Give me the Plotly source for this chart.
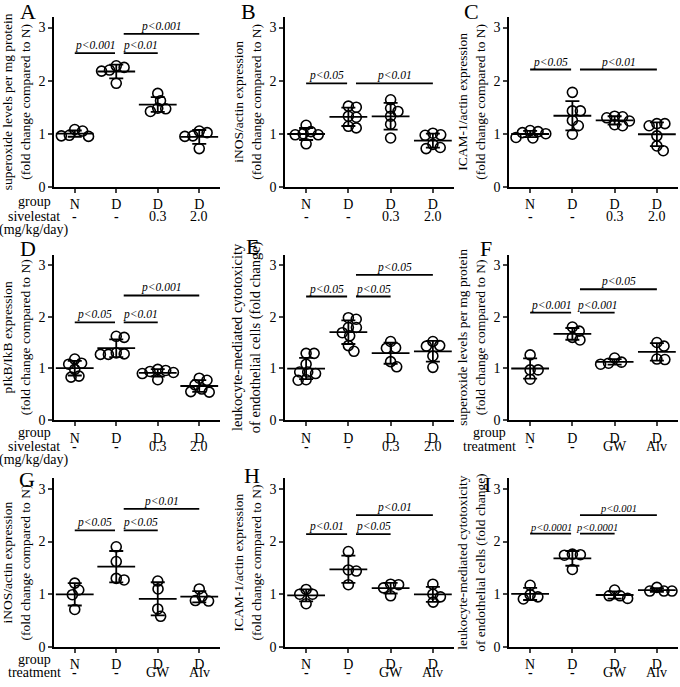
import numpy as np
import plotly.graph_objects as go

# ---------------- data ----------------
GROUPS = ["N", "D", "D", "D"]
DOSE = ["-", "-", "0.3", "2.0"]
TREAT = ["-", "-", "GW", "Alv"]

A_values = [[1.08, 1.05, 0.97, 0.96, 0.95],
            [2.28, 2.18, 2.20, 2.25, 1.95],
            [1.76, 1.62, 1.48, 1.42, 1.47],
            [1.02, 1.05, 0.96, 0.95, 0.72]]
B_values = [[1.04, 0.98, 1.00, 1.16, 0.81, 0.98],
            [1.50, 1.31, 1.11, 1.52, 1.33, 1.14],
            [1.48, 1.64, 1.42, 1.18, 1.33, 0.92],
            [0.97, 1.01, 0.98, 0.80, 0.72, 0.74]]
C_values = [[0.93, 1.04, 1.02, 1.06, 0.92, 1.00],
            [1.78, 1.43, 1.43, 1.15, 1.25, 0.99],
            [1.33, 1.30, 1.32, 1.17, 1.15, 1.24],
            [1.19, 1.15, 1.19, 0.96, 0.68, 0.77]]
D_values = [[1.10, 1.18, 1.08, 0.83, 0.98, 0.85],
            [1.60, 1.62, 1.27, 1.28, 1.30, 1.27],
            [0.94, 0.98, 0.96, 0.92, 0.78, 0.90],
            [0.81, 0.77, 0.68, 0.54, 0.60, 0.55]]
E_values = [[1.29, 1.29, 1.08, 0.93, 0.90, 0.93, 0.77, 0.78],
            [1.98, 1.95, 1.79, 1.79, 1.69, 1.63, 1.44, 1.33],
            [1.52, 1.40, 1.39, 1.03, 1.13],
            [1.52, 1.43, 1.44, 1.24, 1.02]]
F_values = [[1.26, 0.97, 0.97, 0.79],
            [1.72, 1.80, 1.55, 1.60],
            [1.20, 1.08, 1.12, 1.10],
            [1.43, 1.50, 1.17, 1.18]]
G_values = [[1.08, 1.21, 0.99, 0.71],
            [1.90, 1.62, 1.30, 1.27],
            [1.25, 1.10, 0.72, 0.58],
            [0.87, 0.96, 1.10, 0.88]]
H_values = [[1.09, 1.00, 1.00, 0.82],
            [1.81, 1.46, 1.44, 1.18],
            [1.19, 1.18, 1.12, 0.97],
            [1.00, 1.19, 0.95, 0.85]]
I_values = [[0.91, 1.17, 0.99, 0.95],
            [1.75, 1.76, 1.74, 1.47],
            [1.08, 0.92, 0.97, 0.97],
            [1.06, 1.13, 1.06, 1.06]]

# significance comparisons: (group i, group j, bar height, label)
A_sig = [(1, 2, 2.52, "p<0.001"), (2, 3, 2.52, "p<0.01"), (2, 4, 2.88, "p<0.001")]
B_sig = [(1, 2, 1.95, "p<0.05"), (2, 4, 1.95, "p<0.01")]
C_sig = [(1, 2, 2.21, "p<0.05"), (2, 4, 2.21, "p<0.01")]
D_sig = [(1, 2, 1.89, "p<0.05"), (2, 3, 1.89, "p<0.01"), (2, 4, 2.41, "p<0.001")]
E_sig = [(1, 2, 2.39, "p<0.05"), (2, 3, 2.39, "p<0.05"), (2, 4, 2.81, "p<0.05")]
F_sig = [(1, 2, 2.08, "p<0.001"), (2, 3, 2.08, "p<0.001"), (2, 4, 2.53, "p<0.05")]
G_sig = [(1, 2, 2.21, "p<0.05"), (2, 3, 2.21, "p<0.05"), (2, 4, 2.62, "p<0.01")]
H_sig = [(1, 2, 2.14, "p<0.01"), (2, 3, 2.14, "p<0.05"), (2, 4, 2.50, "p<0.01")]
I_sig = [(1, 2, 2.15, "p<0.0001"), (2, 3, 2.15, "p<0.0001"), (2, 4, 2.50, "p<0.001")]

Y_TITLES = {
    "A": "superoxide levels per mg protein<br>(fold change compared to N)",
    "B": "iNOS/actin expression<br>(fold change compared to N)",
    "C": "ICAM-1/actin expression<br>(fold change compared to N)",
    "D": "pIkB/IkB expression<br>(fold change compared to N)",
    "E": "leukocyte-mediated cytotoxicity<br>of endothelial cells (fold change)",
    "F": "superoxide levels per mg protein<br>(fold change compared to N)",
    "G": "iNOS/actin expression<br>(fold change compared to N)",
    "H": "ICAM-1/actin expression<br>(fold change compared to N)",
    "I": "leukocyte-mediated cytotoxicity<br>of endothelial cells (fold change)",
}
Y_TICKS = [0, 1, 2, 3]

# ---------------- layout helpers ----------------
W, H = 680, 687
FONT = "Liberation Serif, Times New Roman, Times, serif"
COL_X = [(54, 220), (285, 454), (509, 678)]     # px, left/right of x axes
ROW_ZERO = [189, 425, 654.5]                     # px of y=0
ROW_SCALE = [53.7, 52.3, 53.3]                   # px per unit
YMAX = 3.2
XR = [0.5, 4.5]
TXT = 14          # tick / label font size
TITLE_SIZE = {"E": 14.5}
SIG_SIZE = {"I": 10.5}

panels = [
    ("A", A_values, A_sig, DOSE, 0, 0),
    ("B", B_values, B_sig, DOSE, 0, 1),
    ("C", C_values, C_sig, DOSE, 0, 2),
    ("D", D_values, D_sig, DOSE, 1, 0),
    ("E", E_values, E_sig, DOSE, 1, 1),
    ("F", F_values, F_sig, TREAT, 1, 2),
    ("G", G_values, G_sig, TREAT, 2, 0),
    ("H", H_values, H_sig, TREAT, 2, 1),
    ("I", I_values, I_sig, TREAT, 2, 2),
]
LETTER_POS = {"A": (28, 12), "B": (249, 12), "C": (471, 12),
              "D": (28, 251), "E": (252, 249), "F": (486, 251),
              "G": (27, 485), "H": (252, 481), "I": (487, 490)}
ROW_LABELS = {"A": ["group", "sivelestat", "(mg/kg/day)"],
              "D": ["group", "sivelestat", "(mg/kg/day)"],
              "F": ["group", "treatment"],
              "G": ["group", "treatment"]}
ROW_LABEL_OFFS = [[15, 30, 44], [13, 27, 40], [13, 26, 40]]


def swarm(vals, sx, sy, thr=8.0):
    """Beeswarm offsets (in x data units) so circles don't overlap too much."""
    vals = np.asarray(vals, float)
    placed = []
    offs = np.zeros(len(vals))
    for idx in np.argsort(-vals):
        y = vals[idx] * sy
        cands = [0.0]
        for (px_, py_) in placed:
            dy = abs(py_ - y)
            if dy < thr:
                dx = np.sqrt(thr ** 2 - dy ** 2)
                cands += [px_ + dx + 0.01, px_ - dx - 0.01]
        cands.sort(key=lambda c: (abs(c), -c))
        chosen = cands[-1]
        for c in cands:
            if all((c - px_) ** 2 + (y - py_) ** 2 >= thr ** 2 - 1e-6 for px_, py_ in placed):
                chosen = c
                break
        placed.append((chosen, y))
        offs[idx] = chosen / sx
    return offs


fig = go.Figure()
layout = dict(width=W, height=H, margin=dict(l=0, r=0, t=0, b=0),
              paper_bgcolor="white", plot_bgcolor="white", showlegend=False,
              font=dict(family=FONT, size=TXT, color="black"))
shapes, annotations = [], []

for k, (name, values, sig, second, r, c) in enumerate(panels, start=1):
    xa, ya = f"x{k}", f"y{k}"
    x0p, x1p = COL_X[c]
    sx = (x1p - x0p) / (XR[1] - XR[0])
    sy = ROW_SCALE[r]
    zero = ROW_ZERO[r]
    top = zero - YMAX * sy

    layout[f"xaxis{k}"] = dict(
        domain=[x0p / W, x1p / W], anchor=ya, range=XR,
        tickvals=[1, 2, 3, 4], ticktext=GROUPS, ticks="outside", ticklen=4,
        tickwidth=1.5, showline=True, linewidth=1.5, linecolor="black",
        showgrid=False, zeroline=False, tickfont=dict(size=TXT, family=FONT),
        fixedrange=True)
    layout[f"yaxis{k}"] = dict(
        domain=[1 - zero / H, 1 - top / H], anchor=xa, range=[0, YMAX],
        tickvals=Y_TICKS, ticks="outside", ticklen=4, tickwidth=1.5,
        showline=True, linewidth=1.5, linecolor="black", showgrid=False,
        zeroline=False, tickfont=dict(size=TXT, family=FONT),
        title=dict(text=Y_TITLES[name],
                   font=dict(size=TITLE_SIZE.get(name, 13.5), family=FONT),
                   standoff=5),
        fixedrange=True)

    means = [float(np.mean(v)) for v in values]
    sds = [float(np.std(v, ddof=1)) for v in values]

    # individual points
    for gi, v in enumerate(values, start=1):
        offs = swarm(v, sx, sy)
        fig.add_trace(go.Scatter(
            x=gi + offs, y=v, mode="markers", xaxis=xa, yaxis=ya,
            marker=dict(symbol="circle-open", size=10, color="black",
                        line=dict(width=1.6, color="black")),
            hoverinfo="skip"))
    # SD error bars
    fig.add_trace(go.Scatter(
        x=[1, 2, 3, 4], y=means, mode="markers", xaxis=xa, yaxis=ya,
        marker=dict(size=1, color="rgba(0,0,0,0)"),
        error_y=dict(type="data", array=sds, visible=True, width=7,
                     thickness=1.8, color="black"),
        hoverinfo="skip"))
    # mean lines
    fig.add_trace(go.Scatter(
        x=[1, 2, 3, 4], y=means, mode="markers", xaxis=xa, yaxis=ya,
        marker=dict(symbol="line-ew", size=27, color="black",
                    line=dict(width=1.8, color="black")),
        hoverinfo="skip"))

    # significance bars
    for (i, j, yb, lab) in sig:
        xs = i if i == 1 else i + 0.18
        xe = j - 0.03 if i == 1 else j
        shapes.append(dict(type="line", xref=xa, yref=ya, x0=xs, x1=xe,
                           y0=yb, y1=yb, line=dict(color="black", width=1.8)))
        annotations.append(dict(xref=xa, yref=ya, x=(xs + xe) / 2, y=yb,
                                text="<i>" + lab.replace("<", "&lt;") + "</i>",
                                showarrow=False, yanchor="bottom", yshift=-1,
                                font=dict(size=SIG_SIZE.get(name, 11.5),
                                          family=FONT)))

    # second line of x labels
    for gi, t in enumerate(second, start=1):
        txt = "<b>-</b>" if t == "-" else t
        annotations.append(dict(xref=xa, yref="paper", x=gi,
                                y=1 - (zero + ROW_LABEL_OFFS[r][1]) / H,
                                text=txt, showarrow=False, yanchor="middle",
                                font=dict(size=TXT, family=FONT)))

    # row labels left of the axis
    if name in ROW_LABELS:
        for li, t in enumerate(ROW_LABELS[name]):
            annotations.append(dict(xref="paper", yref="paper",
                                    x=(x0p - 20) / W,
                                    y=1 - (zero + ROW_LABEL_OFFS[r][li]) / H,
                                    text=t, showarrow=False, xanchor="center",
                                    yanchor="middle",
                                    font=dict(size=TXT, family=FONT)))

    # panel letter
    lx, ly = LETTER_POS[name]
    annotations.append(dict(xref="paper", yref="paper", x=lx / W, y=1 - ly / H,
                            text=name, showarrow=False, xanchor="center",
                            yanchor="middle", font=dict(size=22, family=FONT)))

layout["shapes"] = shapes
layout["annotations"] = annotations
fig.update_layout(**layout)
fig.write_html("out.html",
               config={"displayModeBar": False},
               post_script="document.body.style.margin='0';"
                           "document.body.style.padding='0';")
